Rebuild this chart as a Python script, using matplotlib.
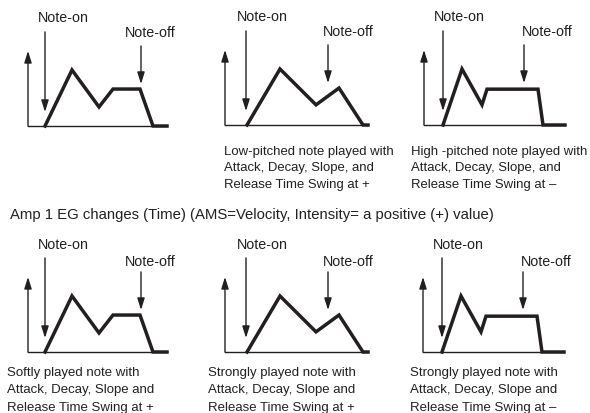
import matplotlib.pyplot as plt

plt.rcParams['font.family'] = ['Liberation Sans', 'DejaVu Sans']

INK = '#231f20'
W, H = 590, 414

# envelope shapes (time, level) for the three kinds of curves
t_normal = [1.7, 4.4, 7.1, 8.5, 11.2, 12.5, 13.9]
lv_normal = [0, 1.0, 0.34, 0.66, 0.66, 0, 0]
t_slow = [2.2, 5.5, 9.1, 11.4, 13.8, 14.3]
lv_slow = [0, 1.0, 0.36, 0.66, 0, 0]
t_fast = [1.9, 3.8, 5.8, 6.3, 11.4, 11.9, 14.1]
lv_fast = [0, 1.0, 0.36, 0.64, 0.64, 0, 0]

note_on_t = [1.7, 2.1, 1.9]
note_off_t = [11.3, 10.3, 10.0]

title = 'Amp 1 EG changes (Time) (AMS=Velocity, Intensity= a positive (+) value)'
top_captions = [None,
                ['Low-pitched note played with', 'Attack, Decay, Slope, and', 'Release Time Swing at +'],
                ['High -pitched note played with', 'Attack, Decay, Slope, and', 'Release Time Swing at \u2013']]
bottom_captions = [['Softly played note with', 'Attack, Decay, Slope and', 'Release Time Swing at +'],
                   ['Strongly played note with', 'Attack, Decay, Slope and', 'Release Time Swing at +'],
                   ['Strongly played note with', 'Attack, Decay, Slope and', 'Release Time Swing at \u2013']]

curves = [(t_normal, lv_normal), (t_slow, lv_slow), (t_fast, lv_fast)]
origins_top = [(28, 127), (225, 126), (424, 126)]
origins_bottom = [(28, 353), (225, 353), (423, 353)]
label_on_t = [3.5, 3.7, 3.5]
label_off_t = [12.2, 12.3, 12.3]

fig = plt.figure(figsize=(W / 100, H / 100), dpi=100)
fig.patch.set_facecolor('white')

PX_T, PX_L = 10.0, 56.0   # pixels per time unit / level unit
ARROW = '-|>,head_length=0.7,head_width=0.22'


def panel(ox, by, i, on_y, off_y):
    ax = fig.add_axes([(ox - 20) / W, (H - (by + 10)) / H, 180 / W, 130 / H])
    ax.set_xlim(-2, 16)
    ax.set_ylim(-10 / PX_L, 120 / PX_L)
    ax.axis('off')
    t, lv = curves[i]
    # axes
    ax.plot([0, t[-1]], [0, 0], color=INK, lw=1.0, clip_on=False)
    ax.annotate('', xy=(0, 1.34), xytext=(0, 0),
                arrowprops=dict(arrowstyle=ARROW, color=INK, lw=1.0, shrinkA=0, shrinkB=0))
    # envelope
    ax.plot(t, lv, color=INK, lw=2.5, solid_joinstyle='miter', clip_on=False)
    # note-on / note-off arrows
    ax.annotate('', xy=(note_on_t[i], 0.25), xytext=(note_on_t[i], 1.68),
                arrowprops=dict(arrowstyle=ARROW, color=INK, lw=1.0, shrinkA=0, shrinkB=0))
    ax.annotate('', xy=(note_off_t[i], 0.75), xytext=(note_off_t[i], 1.43),
                arrowprops=dict(arrowstyle=ARROW, color=INK, lw=1.0, shrinkA=0, shrinkB=0))
    ax.text(label_on_t[i], on_y, 'Note-on', ha='center', va='center',
            fontsize=10.3, color=INK, clip_on=False)
    ax.text(label_off_t[i], off_y, 'Note-off', ha='center', va='center',
            fontsize=10.3, color=INK, clip_on=False)


for i, (ox, by) in enumerate(origins_top):
    panel(ox, by, i, 1.95, 1.68)
for i, (ox, by) in enumerate(origins_bottom):
    panel(ox, by, i, 1.93, 1.63)

# captions
top_x = [None, 224, 411]
for i, lines in enumerate(top_captions):
    if lines is None:
        continue
    for k, s in enumerate(lines):
        fig.text(top_x[i] / W, 1 - (152 + 16.5 * k) / H, s, ha='left', va='center',
                 fontsize=9.45, color=INK)

bot_x = [7, 208, 410]
for i, lines in enumerate(bottom_captions):
    for k, s in enumerate(lines):
        fig.text(bot_x[i] / W, 1 - (373 + 17.5 * k) / H, s, ha='left', va='center',
                 fontsize=9.5, color=INK)

fig.text(10 / W, 1 - 215 / H, title, ha='left', va='center', fontsize=10.7, color=INK)

fig.savefig('out.png', dpi=100, facecolor='white')
